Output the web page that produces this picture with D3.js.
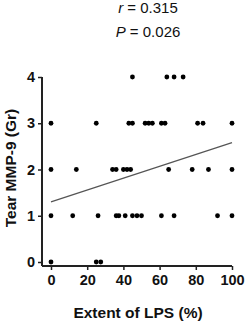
<!DOCTYPE html>
<html>
<head>
<meta charset="utf-8">
<script src="https://cdn.jsdelivr.net/npm/d3@7"></script>
<style>
  body { margin: 0; background: #fff; }
  text { font-family: "Liberation Sans", Arial, sans-serif; }
</style>
</head>
<body>
<svg id="chart"></svg>
<script>
// values, one array per MMP-9 grade
const grade0 = [0, 25, 27.5];
const grade1 = [0, 12, 26, 36, 37.5, 41, 45, 47.5, 50, 61, 68, 92, 100];
const grade2 = [0, 14, 34, 36, 40, 42, 44, 65, 78, 87, 100];
const grade3 = [0, 25, 43, 45, 52, 54, 56, 61, 63, 81, 84, 100];
const grade4 = [45, 64, 68, 73];
const grades = [grade0, grade1, grade2, grade3, grade4];

const xTicks = [0, 20, 40, 60, 80, 100];
const yTicks = [0, 1, 2, 3, 4];

// fitted line as drawn
const fitX = [0, 100];
const fitY = [1.30, 2.58];

const statR = "0.315";
const statP = "0.026";

const width = 246, height = 324;
const svg = d3.select('#chart').attr('width', width).attr('height', height);

const x = d3.scaleLinear().domain([0, 100]).range([51, 232]);
const y = d3.scaleLinear().domain([0, 4]).range([262, 77]);

const points = [];
grades.forEach((arr, g) => arr.forEach(v => points.push({ x: v, y: g })));

// axes
const axisX = svg.append('g').attr('transform', 'translate(0,266)')
    .call(d3.axisBottom(x).tickValues(xTicks).tickFormat(d3.format('d'))
        .tickSize(4).tickSizeOuter(0).tickPadding(5));
axisX.select('.domain').attr('d', 'M42,0H' + x(100));
const axisY = svg.append('g').attr('transform', 'translate(42,0)')
    .call(d3.axisLeft(y).tickValues(yTicks).tickFormat(d3.format('d'))
        .tickSize(4).tickSizeOuter(0).tickPadding(3));
axisY.select('.domain').attr('d', 'M0,' + y(4) + 'V266');

svg.selectAll('.domain').attr('stroke', '#222').attr('stroke-width', 2);
svg.selectAll('.tick line').attr('stroke', '#222').attr('stroke-width', 1.5);
svg.selectAll('.tick text')
    .attr('font-family', '"Liberation Sans", Arial, sans-serif')
    .attr('font-size', 14.5).attr('font-weight', 'bold').attr('fill', '#111');

// regression line
svg.append('line')
    .attr('x1', x(fitX[0])).attr('y1', y(fitY[0]))
    .attr('x2', x(fitX[1])).attr('y2', y(fitY[1]))
    .attr('stroke', '#555').attr('stroke-width', 1.2);

// dots
svg.append('g').selectAll('circle').data(points).join('circle')
    .attr('cx', d => x(d.x)).attr('cy', d => y(d.y))
    .attr('r', 2.4).attr('fill', '#000');

// axis titles
svg.append('text').attr('x', 138).attr('y', 318).attr('text-anchor', 'middle')
    .attr('font-size', 15.5).attr('font-weight', 'bold').attr('fill', '#111')
    .text('Extent of LPS (%)');
svg.append('text').attr('transform', 'translate(16,168) rotate(-90)').attr('text-anchor', 'middle')
    .attr('font-size', 15.5).attr('font-weight', 'bold').attr('fill', '#111')
    .text('Tear MMP-9 (Gr)');

// stats
const st = svg.append('g').attr('font-size', 15).attr('fill', '#111').attr('text-anchor', 'middle');
const t1 = st.append('text').attr('x', 148).attr('y', 13);
t1.append('tspan').attr('font-style', 'italic').text('r');
t1.append('tspan').text(' = ' + statR);
const t2 = st.append('text').attr('x', 148).attr('y', 37);
t2.append('tspan').attr('font-style', 'italic').text('P');
t2.append('tspan').text(' = ' + statP);
</script>
</body>
</html>
